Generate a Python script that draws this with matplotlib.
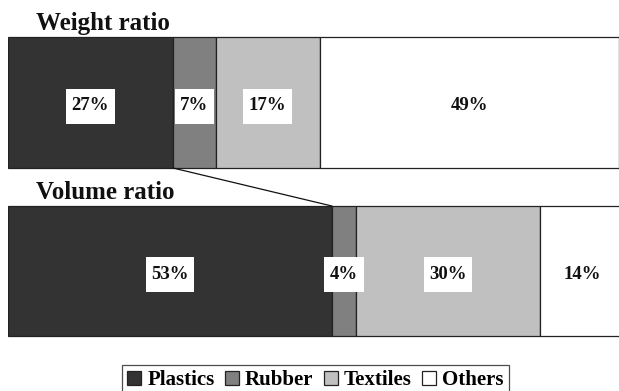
import matplotlib
matplotlib.use("Agg")
import matplotlib.pyplot as plt
from matplotlib.patches import Patch
from matplotlib.path import Path
import numpy as np

materials = ["Plastics", "Rubber", "Textiles", "Others"]
weight_ratio = [27, 7, 17, 49]
volume_ratio = [53, 4, 30, 14]
row_titles = ["Weight ratio", "Volume ratio"]

colors = ["#333333", "#808080", "#c0c0c0", "#ffffff"]

plt.rcParams["font.family"] = ["Liberation Serif", "DejaVu Serif"]


def label_box(x0, y0, width, height, mutation_size):
    # white box, more padding vertically than horizontally (px)
    px, py = 5.5, 9
    x0, y0 = x0 - px, y0 - py
    x1, y1 = x0 + width + 2 * px, y0 + height + 2 * py
    return Path([(x0, y0), (x1, y0), (x1, y1), (x0, y1), (x0, y0)],
                closed=True)


W, H = 619, 391
fig = plt.figure(figsize=(W / 100, H / 100), dpi=100)
# percent across, pixels down
ax = fig.add_axes([8 / W, 0, 1 - 8 / W, 1])
ax.set_xlim(0, 100)
ax.set_ylim(H, 0)
ax.axis("off")

rows = [(102.5, 131), (271, 130)]  # (center, height) in px
title_base = [30, 199]

for (yc, hgt), vals, title, tb in zip(rows, [weight_ratio, volume_ratio], row_titles, title_base):
    left = np.concatenate([[0], np.cumsum(vals)[:-1]])
    ax.barh(yc, vals, left=left, height=hgt, color=colors,
            edgecolor="#222222", linewidth=0.9)
    for l, v, c in zip(left, vals, colors):
        box = None
        if c != "#ffffff":
            box = dict(boxstyle=label_box, fc="white", ec="none", pad=0)
        ax.text(l + v / 2, yc + 3.5, f"{v}%", ha="center", va="center",
                fontsize=13.5, fontweight="bold", color="#111111", bbox=box)
    ax.text(4.6, tb, title, ha="left", va="baseline", fontsize=18,
            fontweight="bold", color="#111111")

# connector between the plastics segments
y_top_bottom = rows[0][0] + rows[0][1] / 2
y_vol_top = rows[1][0] - rows[1][1] / 2
ax.plot([weight_ratio[0], volume_ratio[0]], [y_top_bottom, y_vol_top],
        color="#111111", linewidth=0.9, clip_on=False)

handles = [Patch(facecolor=c, edgecolor="#222222", linewidth=0.9) for c in colors]
leg = fig.legend(handles, materials, loc="upper center",
                 bbox_to_anchor=(0.5097, 1 - 365 / H), ncol=4,
                 frameon=True, fancybox=False, handlelength=0.67,
                 handleheight=0.67, handletextpad=0.29, columnspacing=0.5,
                 borderpad=0.25, borderaxespad=0,
                 prop=dict(size=15, weight="bold"))
leg.get_frame().set_edgecolor("#222222")
leg.get_frame().set_linewidth(0.9)

fig.savefig("out.png", dpi=100)
